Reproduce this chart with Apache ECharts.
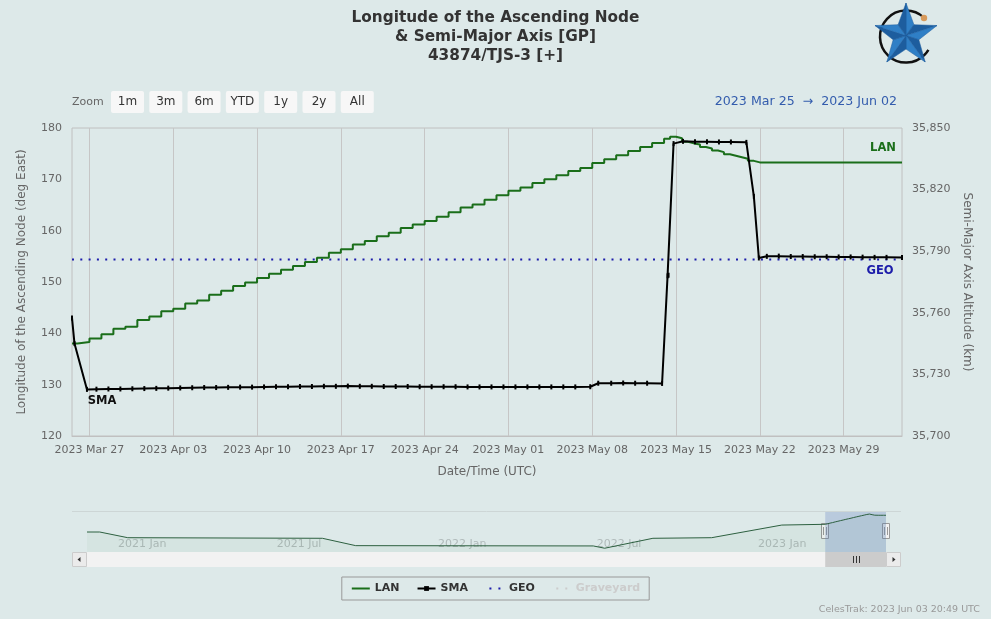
<!DOCTYPE html>
<html>
<head>
<meta charset="utf-8">
<script src="https://cdn.jsdelivr.net/npm/echarts@6/dist/echarts.min.js"></script>
<style>
html, body { margin: 0; padding: 0; background: #dde9e9; }
#chart { width: 991px; height: 619px; }
</style>
</head>
<body>
<div id="chart"></div>
<script>
var FONT = 'DejaVu Sans';

// visible window and navigator start
var viewStart = '2023-03-25T13:00';
var viewEnd = '2023-06-02T21:00';
var navStart = '2020-12-03T12:00';

var titleLines = ['Longitude of the Ascending Node', '& Semi-Major Axis [GP]', '43874/TJS-3 [+]'];

// LAN (deg East), one value per TLE day
var lanDates = [
    '2023-03-25T13:00', '2023-03-26', '2023-03-27', '2023-03-28', '2023-03-29', '2023-03-30', '2023-03-31',
    '2023-04-01', '2023-04-02', '2023-04-03', '2023-04-04', '2023-04-05', '2023-04-06', '2023-04-07',
    '2023-04-08', '2023-04-09', '2023-04-10', '2023-04-11', '2023-04-12', '2023-04-13', '2023-04-14',
    '2023-04-15', '2023-04-16', '2023-04-17', '2023-04-18', '2023-04-19', '2023-04-20', '2023-04-21',
    '2023-04-22', '2023-04-23', '2023-04-24', '2023-04-25', '2023-04-26', '2023-04-27', '2023-04-28',
    '2023-04-29', '2023-04-30', '2023-05-01', '2023-05-02', '2023-05-03', '2023-05-04', '2023-05-05',
    '2023-05-06', '2023-05-07', '2023-05-08', '2023-05-09', '2023-05-10', '2023-05-11', '2023-05-12',
    '2023-05-13', '2023-05-14', '2023-05-14T12:00', '2023-05-15', '2023-05-15T12:00', '2023-05-16',
    '2023-05-16T12:00', '2023-05-17', '2023-05-17T12:00', '2023-05-18', '2023-05-18T12:00', '2023-05-19',
    '2023-05-19T12:00', '2023-05-20', '2023-05-20T12:00', '2023-05-21', '2023-05-21T12:00', '2023-05-22',
    '2023-05-25', '2023-05-28', '2023-05-31', '2023-06-02T21:00'
];
var lanValues = [
    138.0, 138.3, 139.0, 139.8, 140.9, 141.3, 142.6,
    143.3, 144.3, 144.8, 145.8, 146.4, 147.5, 148.3,
    149.2, 149.9, 150.8, 151.6, 152.4, 153.1, 153.9,
    154.7, 155.7, 156.4, 157.3, 158.0, 158.9, 159.6,
    160.5, 161.2, 161.9, 162.7, 163.6, 164.5, 165.1,
    166.0, 166.9, 167.8, 168.4, 169.3, 170.0, 170.8,
    171.6, 172.2, 173.2, 173.9, 174.7, 175.5, 176.3,
    177.1, 177.9, 178.3, 178.0, 177.3, 177.0,
    176.8, 176.3, 176.0, 175.6, 175.3, 174.9,
    174.6, 174.3, 174.0, 173.6, 173.3, 173.3,
    173.3, 173.3, 173.3, 173.3
];

// SMA altitude (km)
var smaDates = [
    '2023-03-25T13:00', '2023-03-25T18:00', '2023-03-26T19:00', '2023-03-27T14:00', '2023-03-28T14:00',
    '2023-03-29T14:00', '2023-03-30T14:00', '2023-03-31T14:00', '2023-04-01T14:00', '2023-04-02T14:00',
    '2023-04-03T14:00', '2023-04-04T14:00', '2023-04-05T14:00', '2023-04-06T14:00', '2023-04-07T14:00',
    '2023-04-08T14:00', '2023-04-09T14:00', '2023-04-10T14:00', '2023-04-11T14:00', '2023-04-12T14:00',
    '2023-04-13T14:00', '2023-04-14T14:00', '2023-04-15T14:00', '2023-04-16T14:00', '2023-04-17T14:00',
    '2023-04-18T14:00', '2023-04-19T14:00', '2023-04-20T14:00', '2023-04-21T14:00', '2023-04-22T14:00',
    '2023-04-23T14:00', '2023-04-24T14:00', '2023-04-25T14:00', '2023-04-26T14:00', '2023-04-27T14:00',
    '2023-04-28T14:00', '2023-04-29T14:00', '2023-04-30T14:00', '2023-05-01T14:00', '2023-05-02T14:00',
    '2023-05-03T14:00', '2023-05-04T14:00', '2023-05-05T14:00', '2023-05-06T14:00', '2023-05-07T20:00',
    '2023-05-08T12:00', '2023-05-09T14:00', '2023-05-10T14:00', '2023-05-11T14:00', '2023-05-12T14:00',
    '2023-05-13T20:00', '2023-05-14T07:00', '2023-05-14T09:00', '2023-05-14T19:00', '2023-05-15T14:00',
    '2023-05-16T14:00', '2023-05-17T14:00', '2023-05-18T14:00', '2023-05-19T14:00', '2023-05-20T21:00',
    '2023-05-21T12:00', '2023-05-21T22:00', '2023-05-22T14:00', '2023-05-23T14:00', '2023-05-24T14:00',
    '2023-05-25T14:00', '2023-05-26T14:00', '2023-05-27T14:00', '2023-05-28T14:00', '2023-05-29T14:00',
    '2023-05-30T14:00', '2023-05-31T14:00', '2023-06-01T14:00', '2023-06-02T21:00'
];
var smaValues = [
    35757.5, 35745.0, 35722.7, 35722.8, 35722.9,
    35722.9, 35723.0, 35723.1, 35723.2, 35723.3,
    35723.4, 35723.5, 35723.6, 35723.6, 35723.7,
    35723.8, 35723.8, 35723.9, 35724.0, 35724.0,
    35724.1, 35724.1, 35724.2, 35724.2, 35724.3,
    35724.2, 35724.2, 35724.1, 35724.1, 35724.1,
    35724.0, 35724.0, 35724.0, 35724.0, 35723.9,
    35723.9, 35723.9, 35723.9, 35723.9, 35723.9,
    35723.9, 35723.9, 35723.9, 35723.9, 35724.0,
    35725.7, 35725.7, 35725.8, 35725.7, 35725.7,
    35725.6, 35778.0, 35778.3, 35842.4, 35843.5,
    35843.3, 35843.3, 35843.2, 35843.2, 35843.0,
    35816.7, 35786.7, 35787.5, 35787.6, 35787.4,
    35787.4, 35787.3, 35787.3, 35787.2, 35787.2,
    35787.1, 35787.0, 35787.0, 35786.9
];

// earlier LAN history, only seen in the navigator
var histDates = [
    '2020-12-03T12:00', '2020-12-18', '2021-01-19', '2021-08-29', '2021-10-06', '2022-07-04',
    '2022-07-17', '2022-09-10', '2022-11-16', '2023-02-04', '2023-03-23'
];
var histValues = [108.0, 108.0, 85.8, 83.5, 54.8, 53.6, 44.7, 83.5, 85.8, 135.1, 137.9];

var geoAlt = 35786;
var graveAlt = 36086;

var weekTicks = ['2023-03-27', '2023-04-03', '2023-04-10', '2023-04-17', '2023-04-24',
    '2023-05-01', '2023-05-08', '2023-05-15', '2023-05-22', '2023-05-29'];
var navTicks = ['2021-01-01', '2021-07-01', '2022-01-01', '2022-07-01', '2023-01-01'];
var zoomButtons = ['1m', '3m', '6m', 'YTD', '1y', '2y', 'All'];

var MONTHS = ['Jan', 'Feb', 'Mar', 'Apr', 'May', 'Jun', 'Jul', 'Aug', 'Sep', 'Oct', 'Nov', 'Dec'];

function utc(s) {
    return Date.parse(s.length === 10 ? s + 'T00:00Z' : s + 'Z');
}
function fmtDay(t) {
    var d = new Date(t);
    return d.getUTCFullYear() + ' ' + MONTHS[d.getUTCMonth()] + ' ' + ('0' + d.getUTCDate()).slice(-2);
}
function fmtMonth(t) {
    var d = new Date(t);
    return d.getUTCFullYear() + ' ' + MONTHS[d.getUTCMonth()];
}
function pairs(dates, values) {
    return dates.map(function (d, i) { return [utc(d), values[i]]; });
}

var t0 = utc(viewStart), t1 = utc(viewEnd);
var lanData = pairs(lanDates, lanValues);
var smaData = pairs(smaDates, smaValues);
var navData = pairs(histDates, histValues).concat(lanData);

var axisText = { color: '#666', fontSize: 11, fontFamily: FONT };
var nameText = { color: '#666', fontSize: 12, fontFamily: FONT };
var GREEN = '#1a6e1a';
var BLUE = '#1c1caa';
var CLEAR = 'rgba(0,0,0,0)';

function seriesLabel(text, color, offset) {
    return { show: true, formatter: text, offset: offset, color: color, fontWeight: 'bold', fontSize: 11.5, fontFamily: FONT };
}

var chart = echarts.init(document.getElementById('chart'));

var option = {
    backgroundColor: '#dde9e9',
    animation: false,
    title: titleLines.map(function (t, i) {
        return {
            text: t, left: 'center', top: 11 + i * 19, padding: 0,
            textStyle: { fontFamily: FONT, fontSize: 15.3, fontWeight: 'bold', color: '#333' }
        };
    }),
    legend: {
        data: [
            { name: 'LAN', itemStyle: { color: CLEAR } },
            'SMA',
            { name: 'GEO', itemStyle: { color: CLEAR }, lineStyle: { type: [2, 7], dashOffset: 5.5 } },
            { name: 'Graveyard', itemStyle: { opacity: 0 },
                lineStyle: { type: [2, 7], dashOffset: 5.5, inactiveColor: '#cccccc', inactiveWidth: 2 } }
        ],
        selected: { Graveyard: false },
        top: 577,
        left: 'center',
        borderColor: '#999',
        borderWidth: 1,
        padding: [6, 9],
        itemGap: 17,
        itemWidth: 18,
        itemHeight: 6,
        inactiveColor: '#cccccc',
        textStyle: { fontFamily: FONT, fontSize: 11, fontWeight: 'bold', color: '#333' }
    },
    grid: [
        { left: 72, top: 128, width: 830, height: 308, show: true, borderColor: '#c0c0c0', borderWidth: 1, backgroundColor: 'transparent' },
        { left: 87, top: 512, width: 799, height: 40 }
    ],
    xAxis: [
        {
            type: 'value', gridIndex: 0, min: t0, max: t1, scale: true,
            axisLine: { show: true, onZero: false, lineStyle: { color: '#c0c0c0' } },
            axisTick: { show: false, customValues: weekTicks.map(utc) },
            axisLabel: Object.assign({ customValues: weekTicks.map(utc), formatter: fmtDay, margin: 9, hideOverlap: false }, axisText),
            splitLine: { show: true, lineStyle: { color: '#c6c6c6', width: 1 } },
            name: 'Date/Time (UTC)', nameLocation: 'middle', nameGap: 30,
            nameTextStyle: nameText
        },
        {
            type: 'value', gridIndex: 1, min: utc(navStart), max: t1, scale: true,
            axisLine: { show: false, onZero: false },
            axisTick: { show: false, customValues: navTicks.map(utc) },
            axisLabel: { customValues: navTicks.map(utc), formatter: fmtMonth, inside: true, align: 'left',
                margin: 2, padding: [0, 0, 0, 6], color: '#b0baba', fontSize: 11, fontFamily: FONT },
            splitLine: { show: false }
        }
    ],
    yAxis: [
        {
            type: 'value', gridIndex: 0, min: 120, max: 180, interval: 10, position: 'left',
            axisLine: { show: false }, axisTick: { show: false }, splitLine: { show: false },
            axisLabel: Object.assign({ margin: 10 }, axisText),
            name: 'Longitude of the Ascending Node (deg East)', nameLocation: 'middle', nameRotate: 90, nameGap: 44,
            nameTextStyle: nameText
        },
        {
            type: 'value', gridIndex: 0, min: 35700, max: 35850, interval: 30, position: 'right',
            axisLine: { show: false }, axisTick: { show: false }, splitLine: { show: false },
            axisLabel: Object.assign({ margin: 10, formatter: function (v) { return v.toLocaleString('en-US'); } }, axisText),
            name: 'Semi-Major Axis Altitude (km)', nameLocation: 'middle', nameRotate: -90, nameGap: 57,
            nameTextStyle: nameText
        },
        { type: 'value', gridIndex: 1, min: 30, max: 186, show: false }
    ],
    series: [
        {
            name: 'LAN', type: 'line', xAxisIndex: 0, yAxisIndex: 0, data: lanData,
            step: 'end', symbol: 'none', z: 3,
            lineStyle: { color: GREEN, width: 2 }, itemStyle: { color: GREEN },
            markPoint: {
                symbolSize: 0, silent: true,
                data: [{ coord: lanData[lanData.length - 1] }],
                label: seriesLabel('LAN', GREEN, [-19, -14])
            }
        },
        {
            name: 'SMA', type: 'line', xAxisIndex: 0, yAxisIndex: 1, data: smaData,
            symbol: 'rect', symbolSize: [2, 5], showAllSymbol: true, z: 4,
            lineStyle: { color: '#000', width: 2 }, itemStyle: { color: '#000' },
            markPoint: {
                symbolSize: 0, silent: true,
                data: [{ coord: smaData[2] }],
                label: seriesLabel('SMA', '#111', [15, 12])
            }
        },
        {
            name: 'GEO', type: 'line', xAxisIndex: 0, yAxisIndex: 1, data: [[t0, geoAlt], [t1, geoAlt]],
            symbol: 'none', z: 2,
            lineStyle: { color: BLUE, width: 2, type: [2, 6.3] }, itemStyle: { color: BLUE },
            markPoint: {
                symbolSize: 0, silent: true,
                data: [{ coord: [t1, geoAlt] }],
                label: seriesLabel('GEO', BLUE, [-22, 12])
            }
        },
        {
            name: 'Graveyard', type: 'line', xAxisIndex: 0, yAxisIndex: 1, data: [[t0, graveAlt], [t1, graveAlt]],
            symbol: 'none',
            lineStyle: { color: '#bbbbbb', width: 2, type: [2, 6.3] }, itemStyle: { color: '#bbbbbb' }
        },
        {
            name: 'navigator', type: 'line', xAxisIndex: 1, yAxisIndex: 2, data: navData,
            symbol: 'none', silent: true,
            lineStyle: { color: '#2d6040', width: 1 },
            areaStyle: { color: 'rgba(0,110,40,0.05)' },
            markArea: {
                silent: true,
                itemStyle: { color: 'rgba(102,133,194,0.3)' },
                data: [[{ xAxis: t0 }, { xAxis: t1 }]]
            }
        }
    ]
};
chart.setOption(option);

// range selector, logo, navigator chrome
var px0 = chart.convertToPixel({ xAxisIndex: 1 }, t0);
var px1 = chart.convertToPixel({ xAxisIndex: 1 }, t1);
var gfx = [];

gfx.push({ type: 'text', x: 72, y: 102, style: { text: 'Zoom', fill: '#666', font: '11px ' + FONT, verticalAlign: 'middle' } });
zoomButtons.forEach(function (b, i) {
    var x = 111 + i * 38.3;
    gfx.push({ type: 'rect', shape: { x: x, y: 91, width: 33, height: 22, r: 2 }, style: { fill: '#f7f7f7' } });
    gfx.push({ type: 'text', x: x + 16.5, y: 102, style: { text: b, fill: '#333', font: '12px ' + FONT, align: 'center', verticalAlign: 'middle' } });
});
gfx.push({ type: 'text', x: 897, y: 102, style: { text: fmtDay(t0) + '  \u2192  ' + fmtDay(t1), fill: '#335cad', font: '12.6px ' + FONT, align: 'right', verticalAlign: 'middle' } });

// logo: ring, star, dot
var cx = 906, cy = 35.6, R = 32.6, r = 13.5, star = [];
for (var k = 0; k < 10; k++) {
    var a = -Math.PI / 2 + k * Math.PI / 5, rr = k % 2 ? r : R;
    star.push([cx + rr * Math.cos(a), cy + rr * Math.sin(a)]);
}
gfx.push({ type: 'arc', shape: { cx: cx, cy: cy + 1, r: 26, startAngle: -Math.PI * 0.26, endAngle: Math.PI * 0.17, clockwise: false }, style: { stroke: '#111', lineWidth: 2.5, fill: null } });
for (var k = 0; k < 10; k++) {
    var p = star[k], q = star[(k + 1) % 10];
    gfx.push({ type: 'polygon', shape: { points: [[cx, cy], p, q] }, style: { fill: k % 2 ? '#1d5d9e' : '#2f7fc6', stroke: '#1d5d9e', lineWidth: 0.5 } });
}
gfx.push({ type: 'circle', shape: { cx: 924, cy: 18, r: 3.2 }, style: { fill: '#d79a5b' } });

// navigator outline and scrollbar
gfx.push({ type: 'line', shape: { x1: 72, y1: 511.5, x2: 901, y2: 511.5 }, style: { stroke: '#cdd6d6', lineWidth: 1 } });
gfx.push({ type: 'rect', shape: { x: 72, y: 552, width: 829, height: 15 }, style: { fill: '#f2f2f2' } });
gfx.push({ type: 'rect', shape: { x: px0, y: 552, width: px1 - px0, height: 15 }, style: { fill: '#cccccc' } });
[-3, 0, 3].forEach(function (d) {
    var mx = Math.round((px0 + px1) / 2) + d + 0.5;
    gfx.push({ type: 'line', shape: { x1: mx, y1: 556, x2: mx, y2: 563 }, style: { stroke: '#333', lineWidth: 1 } });
});
gfx.push({ type: 'rect', shape: { x: 72.5, y: 552.5, width: 14, height: 14 }, style: { fill: '#ebebeb', stroke: '#cccccc', lineWidth: 1 } });
gfx.push({ type: 'polygon', shape: { points: [[77.5, 559.5], [80.5, 557], [80.5, 562]] }, style: { fill: '#333' } });
gfx.push({ type: 'rect', shape: { x: 886.5, y: 552.5, width: 14, height: 14 }, style: { fill: '#ebebeb', stroke: '#cccccc', lineWidth: 1 } });
gfx.push({ type: 'polygon', shape: { points: [[895.5, 559.5], [892.5, 557], [892.5, 562]] }, style: { fill: '#333' } });
[px0, px1].forEach(function (hx) {
    gfx.push({ type: 'rect', shape: { x: Math.round(hx) - 3.5, y: 523.5, width: 7, height: 15 }, style: { fill: '#f2f2f2', stroke: '#999', lineWidth: 1 } });
    gfx.push({ type: 'line', shape: { x1: Math.round(hx) - 1.5, y1: 527, x2: Math.round(hx) - 1.5, y2: 535 }, style: { stroke: '#999', lineWidth: 1 } });
    gfx.push({ type: 'line', shape: { x1: Math.round(hx) + 1.5, y1: 527, x2: Math.round(hx) + 1.5, y2: 535 }, style: { stroke: '#999', lineWidth: 1 } });
});

gfx.push({ type: 'text', x: 980, y: 610, style: { text: 'CelesTrak: 2023 Jun 03 20:49 UTC', fill: '#999', font: '9.5px ' + FONT, align: 'right', verticalAlign: 'middle' } });

chart.setOption({ graphic: gfx });
</script>
</body>
</html>
